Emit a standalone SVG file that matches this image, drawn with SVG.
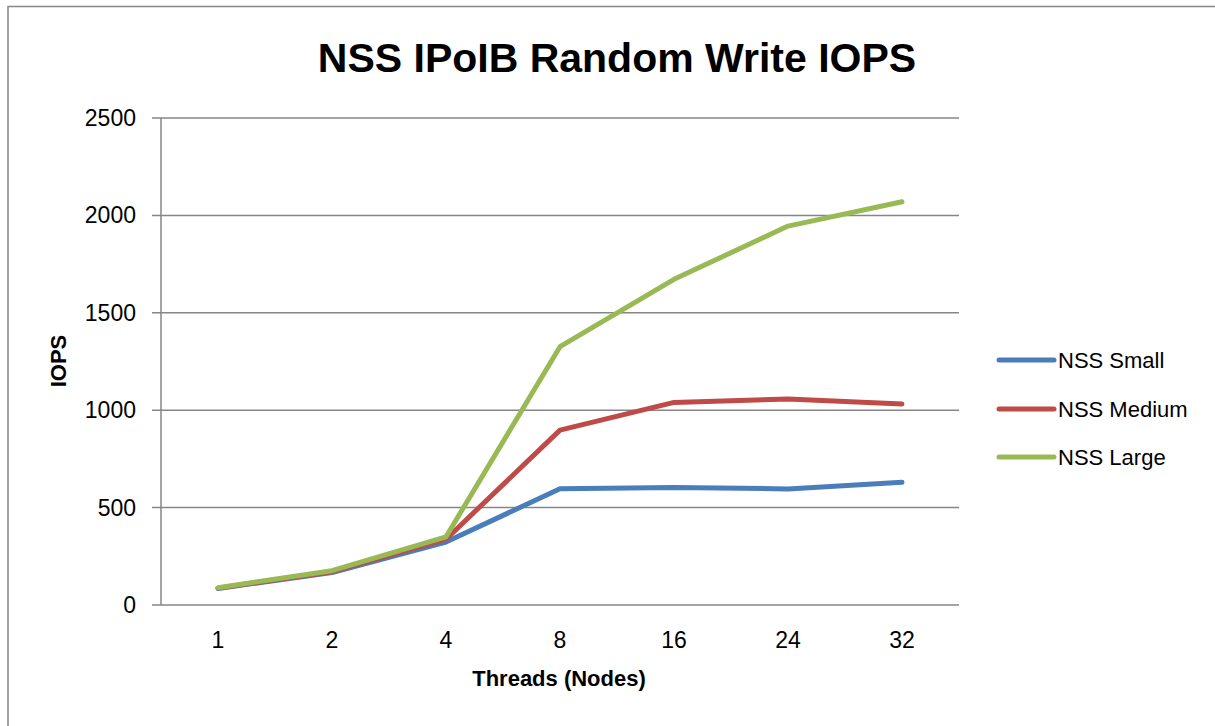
<svg xmlns="http://www.w3.org/2000/svg" width="1215" height="726" viewBox="0 0 1215 726">
  <style>
    .frame { fill: #ffffff; stroke: #868686; stroke-width: 1.5; }
    .grid { stroke: #868686; stroke-width: 1.5; fill: none; }
    .tick { font-family: "Liberation Sans", Arial, sans-serif; font-size: 23px; fill: #000000; }
    .title { font-family: "Liberation Sans", Arial, sans-serif; font-size: 41px; font-weight: bold; fill: #000000; }
    .axis-title { font-family: "Liberation Sans", Arial, sans-serif; font-size: 22px; font-weight: bold; fill: #000000; }
    .legend { font-family: "Liberation Sans", Arial, sans-serif; font-size: 22px; fill: #000000; }
    .series { fill: none; stroke-width: 5; stroke-linejoin: round; stroke-linecap: round; }
    .small { stroke: #4a7ebb; }
    .medium { stroke: #be4b48; }
    .large { stroke: #98b954; }
  </style>

  <!-- chart area -->
  <rect x="0" y="0" width="1215" height="726" fill="#ffffff"/>
  <rect class="frame" x="8" y="6.5" width="1220" height="730"/>

  <text class="title" x="617" y="72" text-anchor="middle">NSS IPoIB Random Write IOPS</text>

  <!-- gridlines, axes and ticks -->
  <g id="axes">
    <path class="grid" d="M152 118H959M152 215.4H959M152 312.8H959M152 410.2H959M152 507.6H959M152 605H959M161 118V605"/>
  </g>

  <g id="y-labels" class="tick" text-anchor="end">
    <text x="136" y="126">2500</text>
    <text x="136" y="223.4">2000</text>
    <text x="136" y="320.8">1500</text>
    <text x="136" y="418.2">1000</text>
    <text x="136" y="515.6">500</text>
    <text x="136" y="613">0</text>
  </g>

  <g id="x-labels" class="tick" text-anchor="middle">
    <text x="218" y="647.5">1</text>
    <text x="332" y="647.5">2</text>
    <text x="446" y="647.5">4</text>
    <text x="560" y="647.5">8</text>
    <text x="674" y="647.5">16</text>
    <text x="788" y="647.5">24</text>
    <text x="902" y="647.5">32</text>
  </g>

  <text class="axis-title" x="559" y="686" text-anchor="middle">Threads (Nodes)</text>
  <text class="axis-title" transform="translate(66,361) rotate(-90)" text-anchor="middle">IOPS</text>

  <!-- data series -->
  <g id="series">
    <polyline id="nss-small" class="series small" points="218,588.4 332,572.5 446,542.1 560,488.7 674,487.5 788,488.9 902,482.3"/>
    <polyline id="nss-medium" class="series medium" points="218,588.1 332,571.7 446,539.2 560,430.1 674,402.4 788,398.9 902,404"/>
    <polyline id="nss-large" class="series large" points="218,587.7 332,570.7 446,536.8 560,346.7 674,279.3 788,226.1 902,201.8"/>
  </g>

  <!-- legend -->
  <g id="legend">
    <g id="legend-small">
      <line class="series small" x1="999" y1="360" x2="1054" y2="360"/>
      <text class="legend" x="1058" y="368">NSS Small</text>
    </g>
    <g id="legend-medium">
      <line class="series medium" x1="999" y1="409" x2="1054" y2="409"/>
      <text class="legend" x="1058" y="417">NSS Medium</text>
    </g>
    <g id="legend-large">
      <line class="series large" x1="999" y1="457" x2="1054" y2="457"/>
      <text class="legend" x="1058" y="465">NSS Large</text>
    </g>
  </g>
</svg>
